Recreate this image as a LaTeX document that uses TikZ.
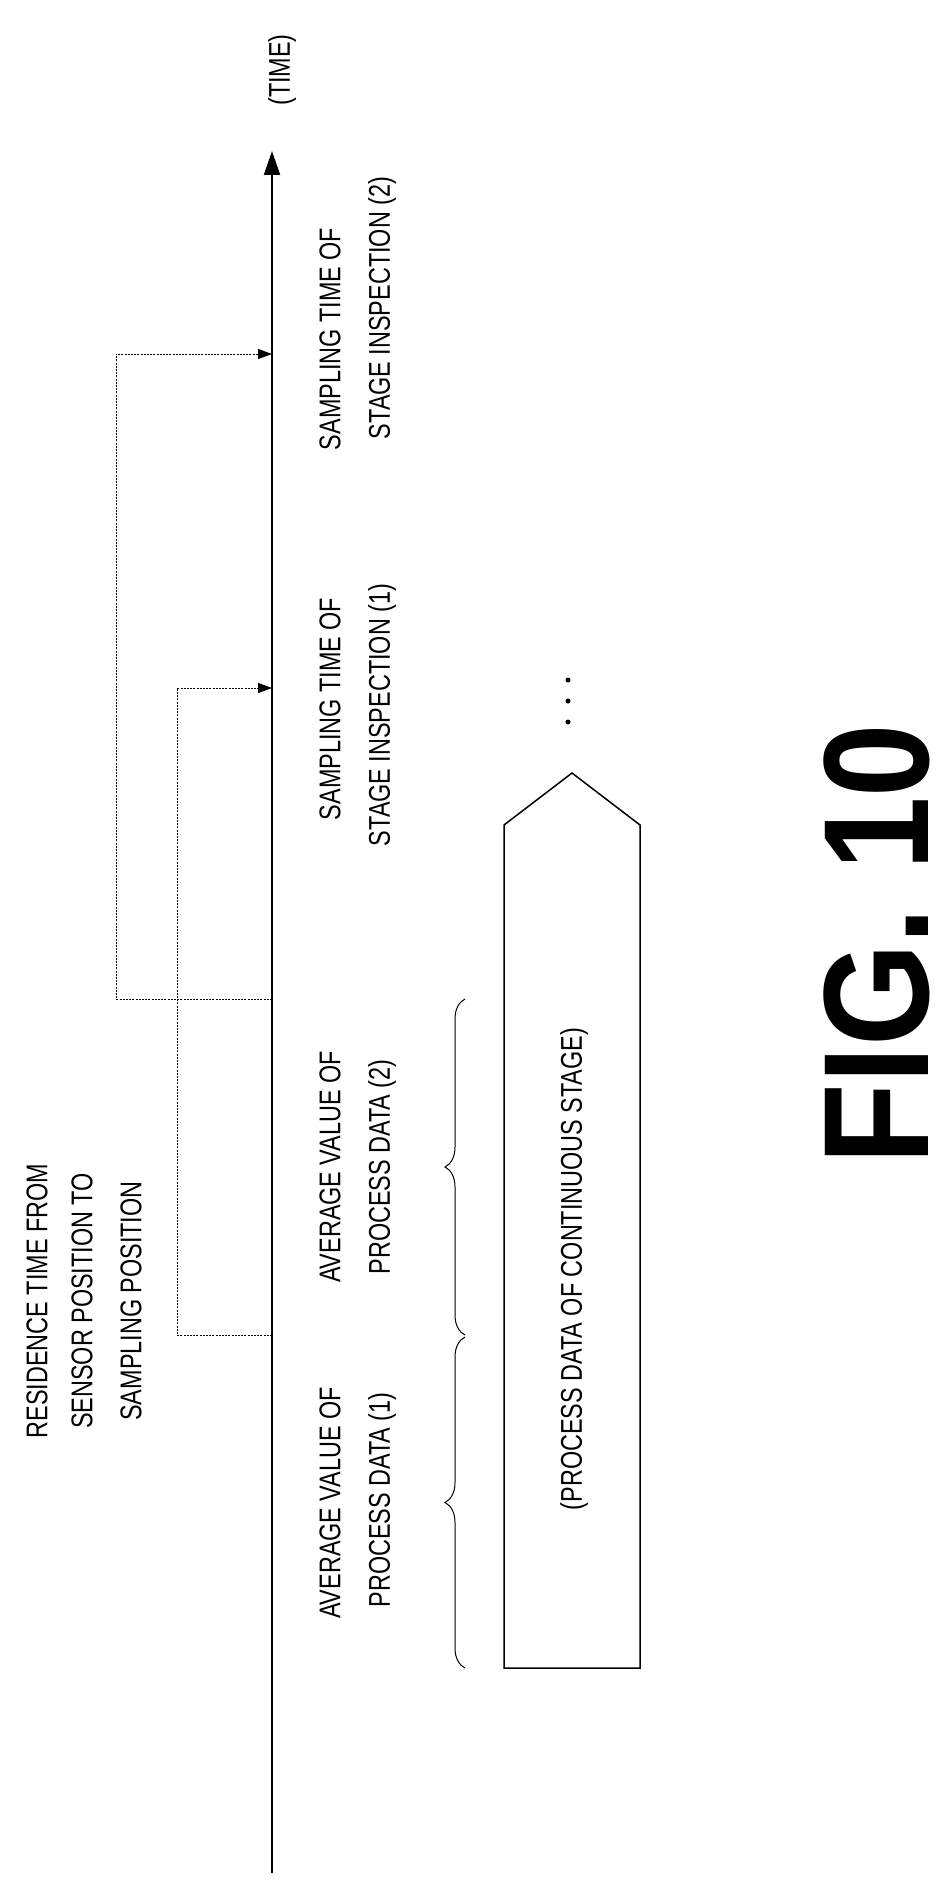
\documentclass[tikz,border=0pt]{standalone}
\usepackage{fontspec}
\usepackage{graphicx}
\setmainfont{Liberation Sans}
\usetikzlibrary{arrows.meta,decorations.pathreplacing}
\newcommand{\nt}[1]{\scalebox{0.78}[1]{#1}}
\tikzset{
  lbl/.style={rotate=90,inner sep=0pt,font=\fontsize{30}{30}\selectfont},
  branch/.style={line width=1pt,dash pattern=on 2pt off 1.2pt,-{Triangle[length=14pt,width=10pt]}},
  axis/.style={line width=2pt,-{Triangle[length=24pt,width=16pt]}},
}
\begin{document}
\begin{tikzpicture}[x=1pt,y=-1pt]
\useasboundingbox (0,0) rectangle (947,1878);
% axis
\coordinate (a0) at (272,1873);
\coordinate (a1) at (272,151);
\draw[axis] (a0) -- (a1);
\node[lbl] (time) at (282,70) {\nt{(TIME)}};
% branches
\coordinate (b1s) at (272,1335);
\coordinate (b1e) at (272,688);
\coordinate (b2s) at (272,999);
\coordinate (b2e) at (272,354);
\draw[branch] (b1s) -- (177,1335) -- (177,688) -- (b1e);
\draw[branch] (b2s) -- (116,999) -- (116,354) -- (b2e);
% labels
\node[lbl] (r1) at (37,1301) {\nt{RESIDENCE TIME FROM}};
\node[lbl] (r2) at (82,1301) {\nt{SENSOR POSITION TO}};
\node[lbl] (r3) at (131,1301) {\nt{SAMPLING POSITION}};
\node[lbl] (s21) at (330,339) {\nt{SAMPLING TIME OF}};
\node[lbl] (s22) at (382,308) {\nt{STAGE INSPECTION (2)}};
\node[lbl] (s11) at (330,709) {\nt{SAMPLING TIME OF}};
\node[lbl] (s12) at (382,715) {\nt{STAGE INSPECTION (1)}};
\node[lbl] (p21) at (330,1167) {\nt{AVERAGE VALUE OF}};
\node[lbl] (p22) at (382,1167) {\nt{PROCESS DATA (2)}};
\node[lbl] (p11) at (330,1503) {\nt{AVERAGE VALUE OF}};
\node[lbl] (p12) at (382,1500) {\nt{PROCESS DATA (1)}};
% braces
\draw[line width=1pt,decorate,decoration={brace,amplitude=20pt}] (465,1668) -- (465,1337);
\draw[line width=1pt,decorate,decoration={brace,amplitude=20pt}] (465,1335) -- (465,999);
% pentagon
\draw[line width=1.5pt] (504,1668) -- (504,825) -- (572,773) -- (640,825) -- (640,1668) -- cycle;
\node[lbl] (pd) at (574,1269) {\nt{(PROCESS DATA OF CONTINUOUS STAGE)}};
\foreach \yy in {680,701,722} \fill (568,\yy) circle (2.5pt);
% figure title
\node[rotate=90,inner sep=0pt,anchor=base,font=\fontsize{150}{150}\selectfont\bfseries] (fig) at (928,944) {\scalebox{0.88}[1]{FIG. 10}};
\end{tikzpicture}
\end{document}
